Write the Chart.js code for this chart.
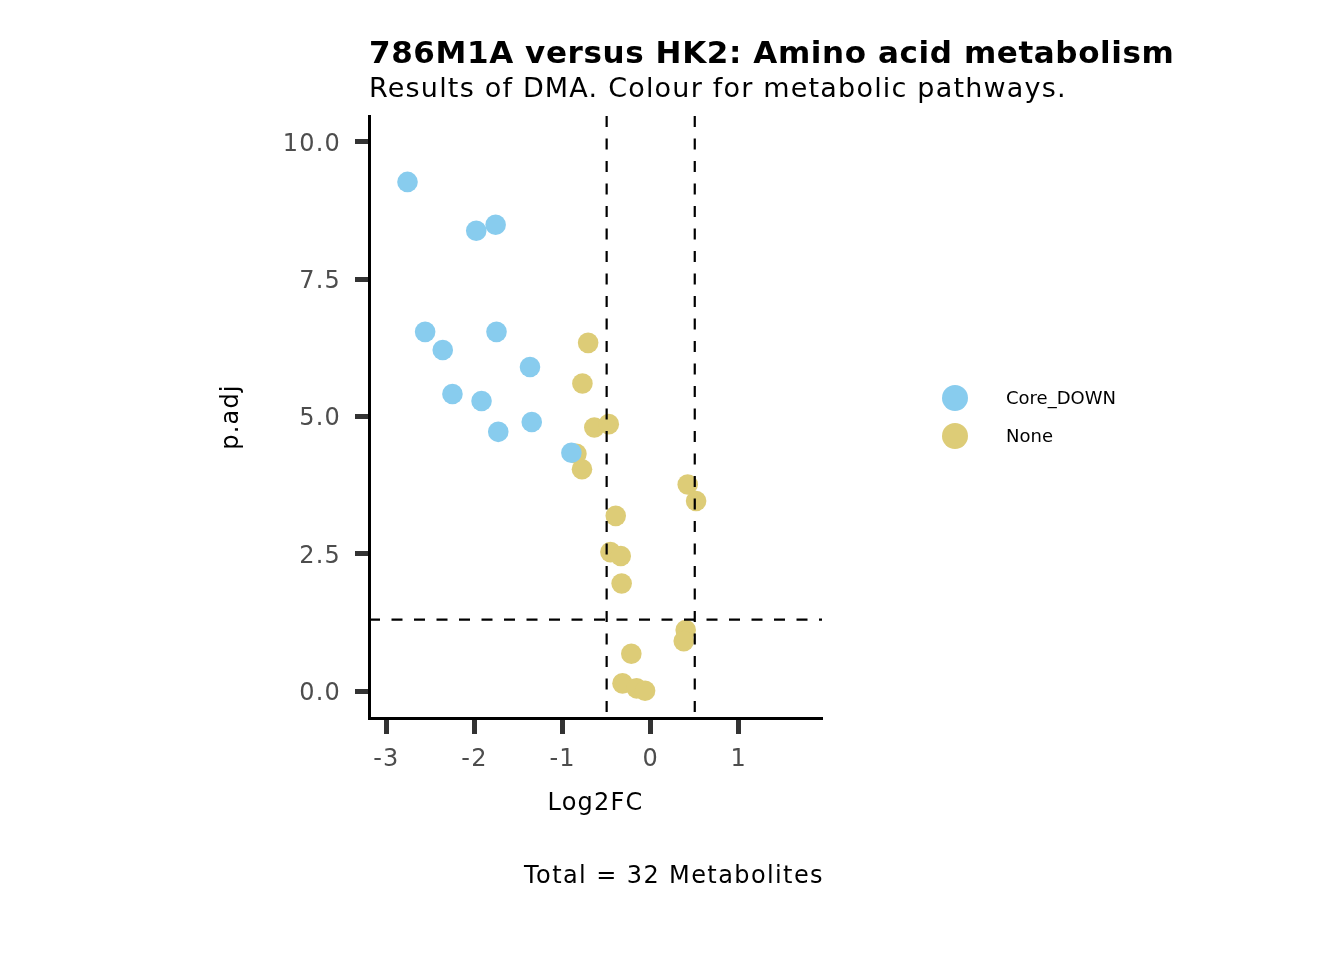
<!DOCTYPE html>
<html>
<head>
<meta charset="utf-8">
<script src="https://cdn.jsdelivr.net/npm/chart.js@4.4.1/dist/chart.umd.min.js"></script>
<style>
  html, body { margin: 0; padding: 0; background: #ffffff; }
  canvas { display: block; }
</style>
</head>
<body>
<canvas id="c" width="1344" height="960"></canvas>
<script>
// ---- data ----
const seriesNames = ['Core_DOWN', 'None'];
const coreDownLog2FC = [-2.76, -1.98, -1.76, -2.56, -2.36, -1.75, -1.37, -2.25, -1.92, -1.73, -1.35, -0.90];
const coreDownPadj   = [ 9.27,  8.38,  8.49,  6.54,  6.21,  6.54,  5.90,  5.41,  5.28,  4.72,  4.90,  4.34];
const noneLog2FC = [-0.71, -0.775, -0.64, -0.476, -0.843, -0.78, 0.42, 0.515, -0.397, -0.457, -0.34, -0.33, 0.397, 0.375, -0.22, -0.32, -0.16, -0.064];
const nonePadj   = [ 6.34,  5.60,  4.80,  4.86,  4.32,  4.04, 3.76, 3.46,  3.19,  2.53,  2.46,  1.96, 1.11, 0.91, 0.68, 0.14, 0.05, 0.005];
const xTicks = [-3, -2, -1, 0, 1];
const yTicks = [0, 2.5, 5, 7.5, 10];
const fcCutoffs = [-0.5, 0.5];
const pCutoff = 1.30103; // -log10(0.05)
const titleText = '786M1A versus HK2: Amino acid metabolism';
const subtitleText = 'Results of DMA. Colour for metabolic pathways.';
const captionText = 'Total = 32 Metabolites';
const seriesColors = ['#88CCEE', '#DDCC77'];

const FONT = "'DejaVu Sans', sans-serif";

function toPoints(xs, ys) { return xs.map((x, i) => ({ x: x, y: ys[i] })); }

const annotations = {
  id: 'annotations',
  beforeDraw(chart) {
    chart.ctx.letterSpacing = '1.2px';
  },
  afterDatasetsDraw(chart) {
    const ctx = chart.ctx;
    const xs = chart.scales.x, ys = chart.scales.y;
    const a = chart.chartArea;
    ctx.save();
    ctx.strokeStyle = '#000';
    ctx.lineWidth = 2.2;
    ctx.setLineDash([11, 11.5]);
    fcCutoffs.forEach(v => {
      const px = xs.getPixelForValue(v);
      ctx.beginPath(); ctx.moveTo(px, a.top); ctx.lineTo(px, a.bottom); ctx.stroke();
    });
    const py = ys.getPixelForValue(pCutoff);
    ctx.beginPath(); ctx.moveTo(a.left, py); ctx.lineTo(a.right, py); ctx.stroke();
    ctx.restore();
  },
  afterDraw(chart) {
    const ctx = chart.ctx;
    const a = chart.chartArea;
    ctx.save();
    ctx.fillStyle = '#000';
    ctx.textBaseline = 'alphabetic';
    ctx.textAlign = 'left';
    ctx.letterSpacing = '0.6px';
    ctx.font = 'bold 31px ' + FONT;
    ctx.fillText(titleText, a.left, 62.7);
    ctx.letterSpacing = '1.2px';
    ctx.font = '27px ' + FONT;
    ctx.fillText(subtitleText, a.left, 96.5);
    ctx.letterSpacing = '1.4px';
    ctx.font = '24px ' + FONT;
    ctx.textAlign = 'right';
    ctx.fillText(captionText, a.right + 2, 883);
    // legend
    ctx.letterSpacing = '0px';
    const legY = [398, 436];
    seriesNames.forEach((name, i) => {
      ctx.beginPath();
      ctx.fillStyle = seriesColors[i];
      ctx.arc(955, legY[i], 13, 0, Math.PI * 2);
      ctx.fill();
      ctx.fillStyle = '#000';
      ctx.font = '18px ' + FONT;
      ctx.textAlign = 'left';
      ctx.textBaseline = 'middle';
      ctx.fillText(name, 1006, legY[i] + 1);
    });
    ctx.restore();
  }
};

new Chart(document.getElementById('c'), {
  type: 'scatter',
  data: {
    datasets: [
      { label: seriesNames[0], data: toPoints(coreDownLog2FC, coreDownPadj), backgroundColor: seriesColors[0], borderWidth: 0, pointRadius: 10.3, pointHoverRadius: 10.3 },
      { label: seriesNames[1], data: toPoints(noneLog2FC, nonePadj), backgroundColor: seriesColors[1], borderWidth: 0, pointRadius: 10.3, pointHoverRadius: 10.3 }
    ]
  },
  options: {
    responsive: false,
    animation: false,
    devicePixelRatio: 1,
    events: [],
    layout: { padding: { left: 0, right: 1344 - 822, top: 116, bottom: 0 } },
    plugins: { legend: { display: false }, title: { display: false }, tooltip: { enabled: false } },
    scales: {
      x: {
        type: 'linear', position: 'bottom', min: -3.197, max: 1.944,
        border: { display: true, color: '#000', width: 3 },
        grid: { display: true, drawOnChartArea: false, drawTicks: true, tickLength: 16, tickWidth: 5, tickColor: '#333333' },
        ticks: { color: '#4d4d4d', font: { family: FONT, size: 24 }, padding: 11.5, callback: v => String(v) },
        afterBuildTicks: s => { s.ticks = xTicks.map(v => ({ value: v })); },
        afterFit: s => { s.height = 242; },
        title: { display: true, text: 'Log2FC', color: '#000', font: { family: FONT, size: 24 }, padding: { top: 0, bottom: 141.6 } }
      },
      y: {
        type: 'linear', position: 'left', min: -0.49, max: 10.47,
        border: { display: true, color: '#000', width: 3 },
        grid: { display: true, drawOnChartArea: false, drawTicks: true, tickLength: 14, tickWidth: 5, tickColor: '#333333' },
        ticks: { color: '#4d4d4d', font: { family: FONT, size: 24 }, padding: 14, labelOffset: 2.5, callback: v => v.toFixed(1) },
        afterBuildTicks: s => { s.ticks = yTicks.map(v => ({ value: v })); },
        afterFit: s => { s.width = 369; },
        title: { display: true, text: 'p.adj', color: '#000', font: { family: FONT, size: 24 }, padding: { top: 217.6, bottom: 0 } }
      }
    }
  },
  plugins: [annotations]
});
</script>
</body>
</html>
